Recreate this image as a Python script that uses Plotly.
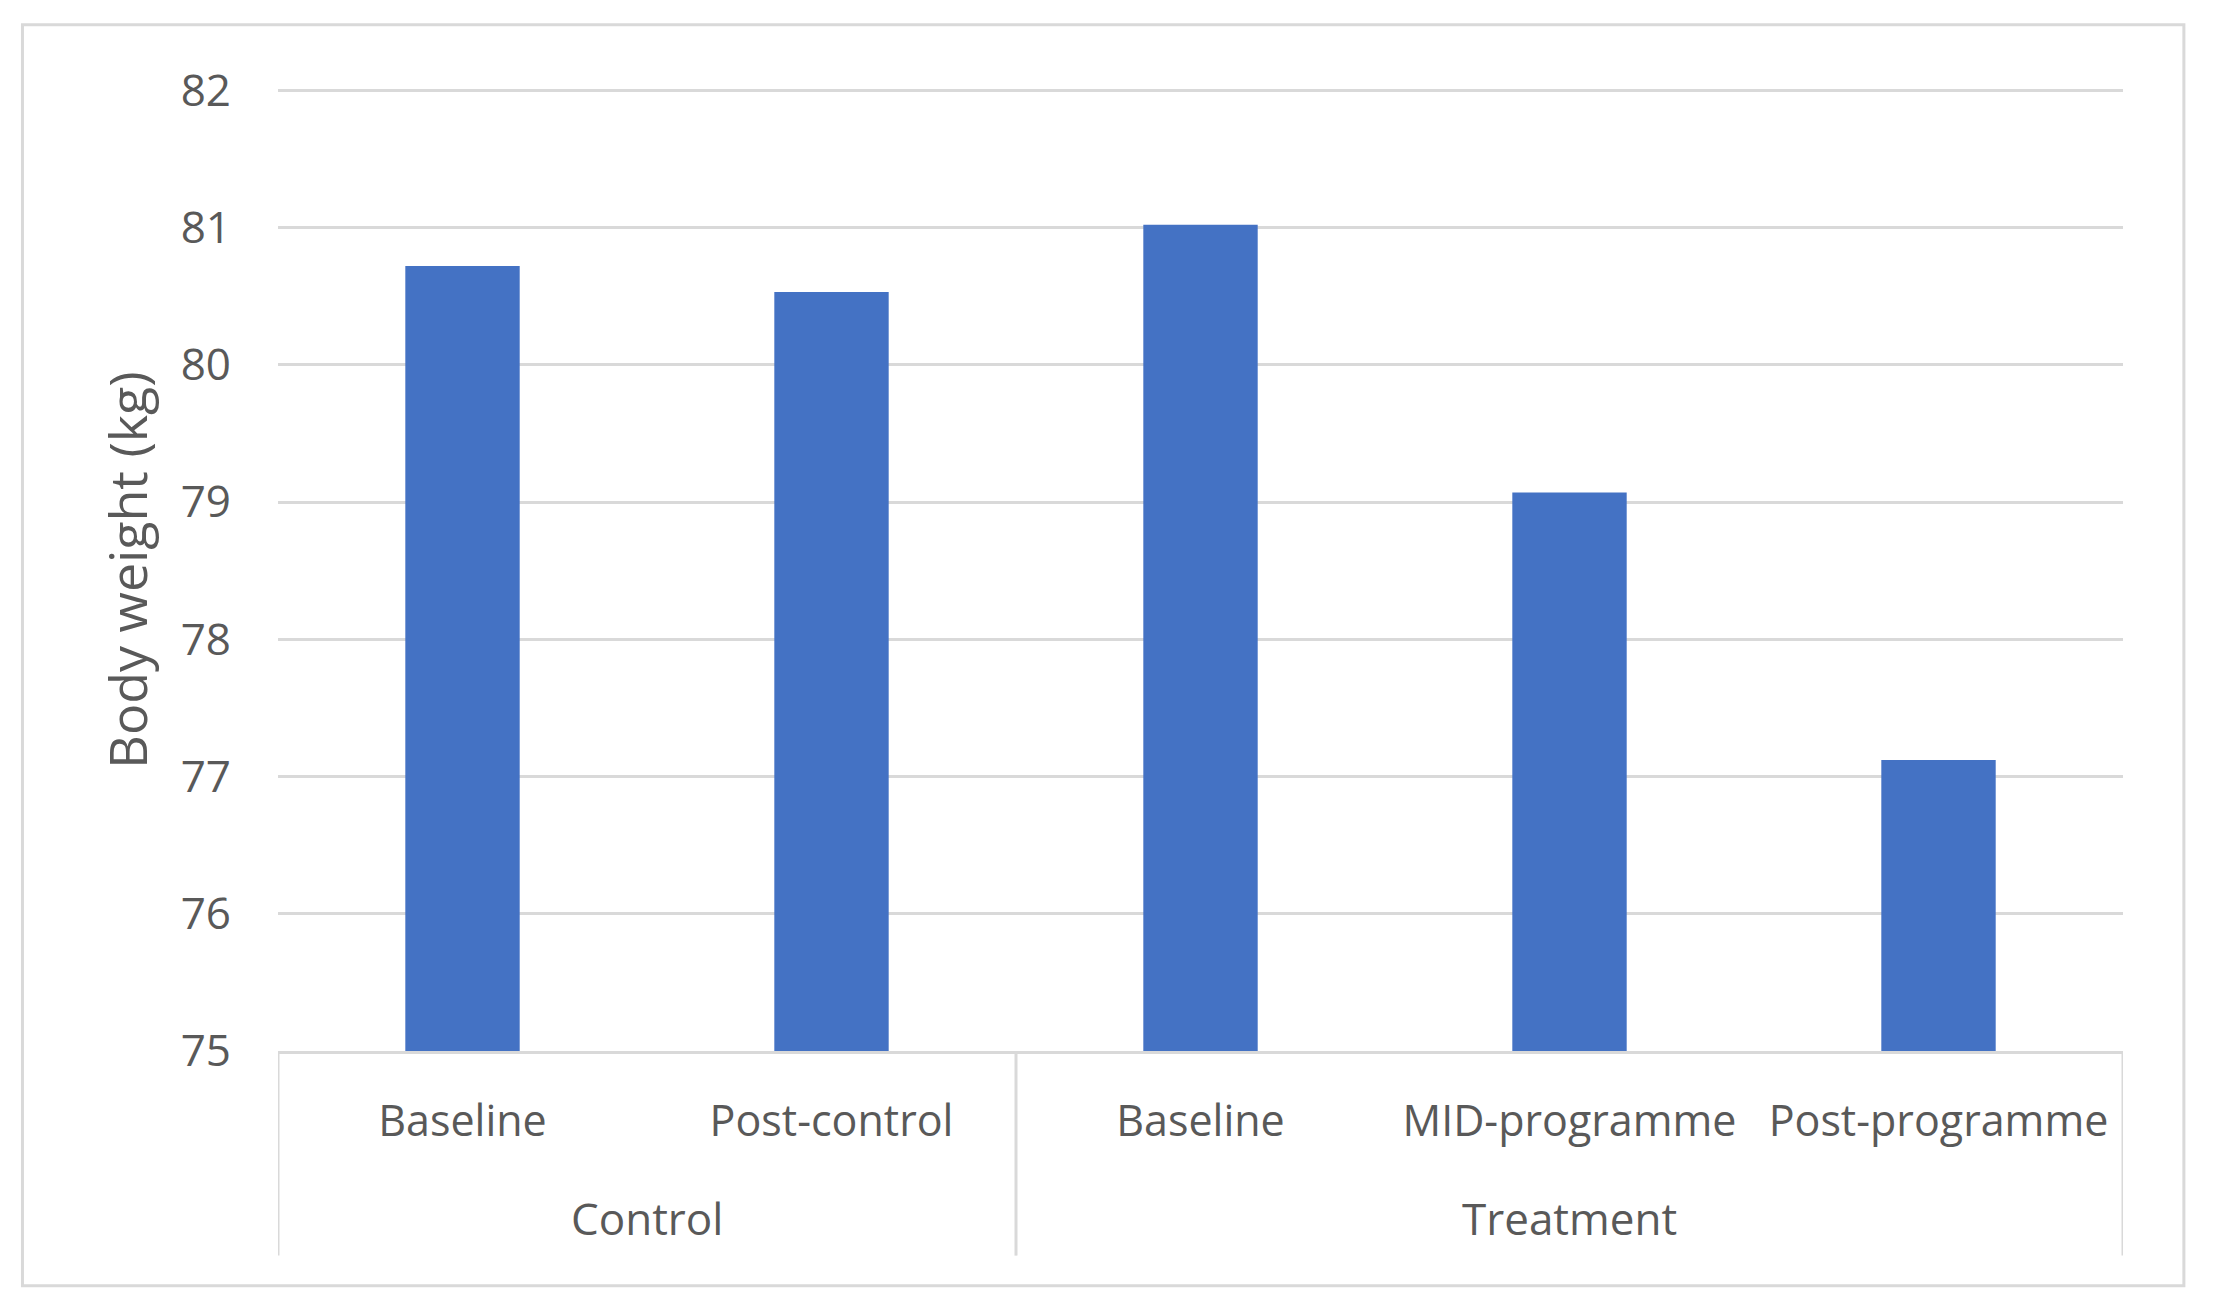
import plotly.graph_objects as go

groups = ["Control", "Control", "Treatment", "Treatment", "Treatment"]
stages = ["Baseline", "Post-control", "Baseline", "MID-programme", "Post-programme"]
weights = [80.72, 80.53, 81.02, 79.07, 77.12]

y_ticks = [75, 76, 77, 78, 79, 80, 81, 82]

GRID = "#d9d9d9"
TXT = "#595959"
FONT = "Open Sans"

xpos = list(range(len(stages)))

fig = go.Figure()
fig.add_trace(go.Bar(
    x=xpos,
    y=weights,
    marker=dict(color="#4472C4", line=dict(width=0)),
    width=0.31,
    hovertext=[f"{g} - {s}" for g, s in zip(groups, stages)],
))

# group spans (boundaries and label centres derived from the group list)
spans = []
start = 0
for i in range(1, len(groups) + 1):
    if i == len(groups) or groups[i] != groups[start]:
        spans.append((groups[start], start, i - 1))
        start = i

shapes = [
    dict(type="rect", xref="paper", yref="paper",
         x0=-0.1385, x1=1.033, y0=-0.244, y1=1.0667,
         line=dict(color=GRID, width=3), fillcolor="rgba(0,0,0,0)",
         layer="below"),
]
annotations = []
bounds = sorted({s - 0.5 for _, s, _ in spans} | {e + 0.5 for _, _, e in spans})
for b in bounds:
    shapes.append(dict(type="line", xref="x", yref="paper",
                       x0=b, x1=b, y0=0, y1=-0.2127,
                       line=dict(color=GRID, width=3)))
for name, s, e in spans:
    annotations.append(dict(text=name, xref="x", yref="paper",
                            x=(s + e) / 2, y=-0.174, yanchor="middle",
                            showarrow=False,
                            font=dict(family=FONT, size=44, color=TXT)))

fig.update_layout(
    width=2198,
    height=1293,
    margin=dict(l=270, r=83, t=81, b=250),
    paper_bgcolor="white",
    plot_bgcolor="white",
    showlegend=False,
    font=dict(family=FONT, color=TXT, size=42),
    shapes=shapes,
    annotations=annotations,
)

fig.update_yaxes(
    range=[75, 82.01],
    tickvals=y_ticks,
    showgrid=True,
    gridcolor=GRID,
    gridwidth=3,
    zeroline=False,
    showline=False,
    ticks="",
    tickfont=dict(family=FONT, size=44, color=TXT),
    ticklabelstandoff=46,
    title=dict(text="Body weight (kg)", font=dict(family=FONT, size=52, color=TXT), standoff=16),
)

fig.update_xaxes(
    range=[-0.5, len(stages) - 0.5],
    tickvals=xpos,
    ticktext=stages,
    showline=True,
    linecolor=GRID,
    linewidth=3,
    ticks="",
    showgrid=False,
    zeroline=False,
    tickfont=dict(family=FONT, size=43, color=TXT),
    ticklabelstandoff=30,
)

fig.write_html("out.html")
